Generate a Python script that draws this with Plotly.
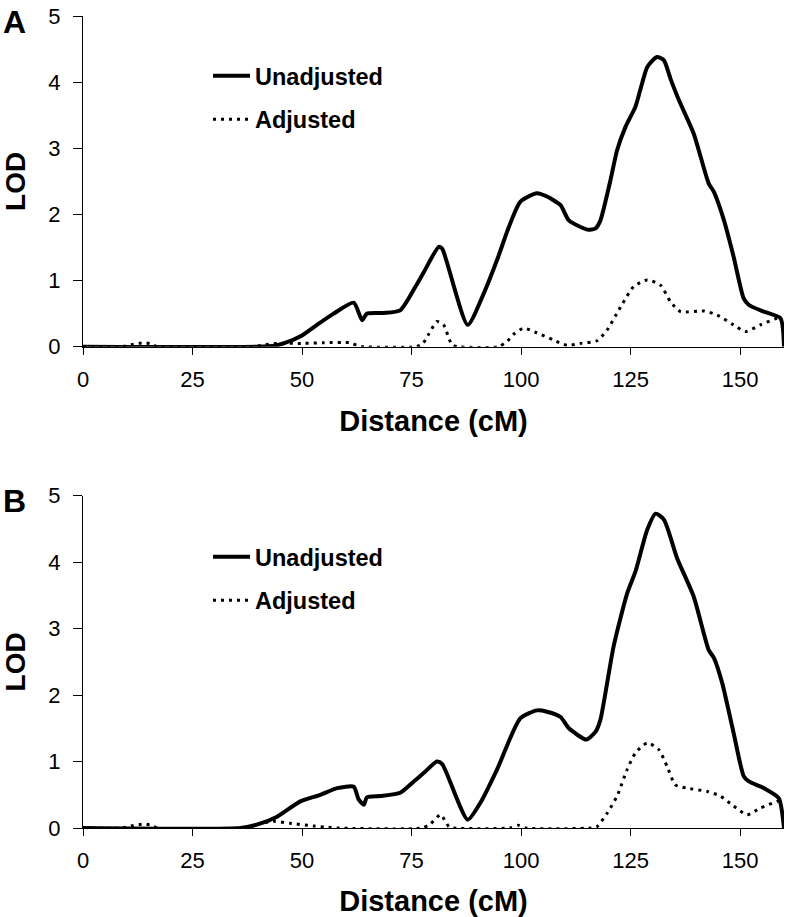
import plotly.graph_objects as go

# Panel A data
a_unadj_x = [0, 40, 44, 45.8, 50, 53.4, 57.2, 61.8, 63.7, 64.8, 68.6, 72.4, 75.9, 77.8, 81.2, 82.0, 87.8,
             91.5, 94.5, 97.2, 99.8, 103.6, 105.9, 109.0, 110.9, 115.1, 117.0, 118.1, 120.4, 121.9, 123.8,
             126.1, 127.6, 128.8, 131.0, 132.6, 134.1, 136.0, 139.4, 142.8, 144.0, 146.3, 148.5, 150.8,
             152.0, 155.4, 159.2, 160]
a_unadj_y = [0, 0, 0.02, 0.05, 0.17, 0.33, 0.50, 0.665, 0.40, 0.50, 0.51, 0.55, 0.91, 1.13, 1.51, 1.48, 0.33,
             0.81, 1.31, 1.81, 2.19, 2.32, 2.27, 2.14, 1.91, 1.77, 1.79, 1.91, 2.52, 2.97, 3.32,
             3.63, 3.98, 4.23, 4.38, 4.33, 4.05, 3.73, 3.22, 2.47, 2.34, 1.91, 1.36, 0.73,
             0.63, 0.53, 0.43, 0]
a_adj_x = [0, 9, 11, 14, 16, 17, 38, 40.5, 44.3, 50, 55, 61, 62.5, 64, 76, 77.5, 79, 80.8, 82.3, 84.2, 85.5,
           94.8, 96.8, 98.5, 100.6, 103.6, 107.4, 110.5, 113.5, 117.3, 119.6, 122.7, 125.7, 128.8, 131.8,
           134.1, 136.4, 141.7, 144.7, 148.5, 151.2, 154.6, 158.4, 159.5]
a_adj_y = [0, 0, 0.03, 0.06, 0.03, 0, 0, 0.02, 0.05, 0.05, 0.06, 0.06, 0.02, 0, 0, 0.04, 0.2, 0.38, 0.33, 0.03, 0,
           0, 0.08, 0.2, 0.28, 0.21, 0.10, 0.02, 0.05, 0.09, 0.25, 0.60, 0.91, 1.01, 0.93,
           0.68, 0.53, 0.54, 0.48, 0.33, 0.23, 0.33, 0.43, 0.44]

# Panel B data
b_unadj_x = [0, 36, 39.7, 44.3, 49.6, 54.2, 58.0, 61.8, 62.9, 64.1, 64.8, 67.9, 72.4, 75.5, 77.8, 80.8, 82.0,
             87.8, 90.7, 94.5, 99.8, 103.6, 105.9, 109.0, 110.9, 114.9, 117.0, 118.1, 121.1, 124.2, 126.1,
             128.8, 130.7, 132.6, 135.6, 139.4, 142.8, 144.0, 145.9, 148.5, 150.8, 152.0, 155.4, 158.8, 160]
b_unadj_y = [0, 0, 0.05, 0.17, 0.40, 0.50, 0.60, 0.62, 0.43, 0.35, 0.46, 0.48, 0.53, 0.70, 0.83, 1.00, 0.96,
             0.125, 0.38, 0.88, 1.65, 1.77, 1.75, 1.67, 1.50, 1.33, 1.45, 1.63, 2.73, 3.53, 3.86,
             4.49, 4.73, 4.64, 4.06, 3.48, 2.68, 2.56, 2.18, 1.43, 0.78, 0.70, 0.60, 0.45, 0]
b_adj_x = [0, 9, 11, 14, 16, 17, 37, 40.5, 43.5, 47.3, 52.7, 56, 58, 77.4, 79.3, 81.6, 83.5, 84.5, 97.5, 99.4,
           101, 116, 117.3, 119.6, 121.9, 124.2, 126.1, 128.8, 131.4, 133.3, 135.2, 137.9, 142.5, 145.5,
           148.5, 151.6, 154.6, 158.4, 159.5]
b_adj_y = [0, 0, 0.03, 0.06, 0.03, 0, 0, 0.07, 0.10, 0.07, 0.03, 0.01, 0, 0, 0.06, 0.20, 0.02, 0, 0, 0.04,
           0, 0, 0.02, 0.22, 0.48, 0.88, 1.13, 1.28, 1.18, 0.93, 0.65, 0.60, 0.55, 0.48,
           0.33, 0.20, 0.30, 0.40, 0.42]

x_ticks = [0, 25, 50, 75, 100, 125, 150]
y_ticks = [0, 1, 2, 3, 4, 5]
panel_labels = ["A", "B"]

FONT = "Liberation Sans, Arial, Helvetica, sans-serif"
W, H = 789, 917
ML, MR, MT, MB = 83, 5, 16, 89

fig = go.Figure()

solid = dict(color="black", width=4, shape="spline", smoothing=0.6)
dotted = dict(color="black", width=3, dash="3px,5px", shape="spline", smoothing=0.6)

fig.add_trace(go.Scatter(x=a_unadj_x, y=a_unadj_y, mode="lines", line=solid, name="<b>Unadjusted</b>",
                         xaxis="x", yaxis="y", legend="legend", legendgroup="a1"))
fig.add_trace(go.Scatter(x=a_adj_x, y=a_adj_y, mode="lines", line=dotted, name="<b>Adjusted</b>",
                         xaxis="x", yaxis="y", legend="legend", legendgroup="a2"))
fig.add_trace(go.Scatter(x=b_unadj_x, y=b_unadj_y, mode="lines", line=solid, name="<b>Unadjusted</b>",
                         xaxis="x2", yaxis="y2", legend="legend2", legendgroup="b1"))
fig.add_trace(go.Scatter(x=b_adj_x, y=b_adj_y, mode="lines", line=dotted, name="<b>Adjusted</b>",
                         xaxis="x2", yaxis="y2", legend="legend2", legendgroup="b2"))

plot_h = H - MT - MB
plot_w = W - ML - MR
a_bottom = (H - MB - 346.7) / plot_h
b_top = (H - MB - 495.7) / plot_h

xcommon = dict(range=[0, 160], tickvals=x_ticks, ticks="outside", ticklen=7, tickwidth=1,
               tickcolor="black", showline=True, linecolor="black", linewidth=1, showgrid=False,
               zeroline=False, tickfont=dict(family=FONT, size=22, color="black"),
               title=dict(text="<b>Distance (cM)</b>", font=dict(family=FONT, size=29, color="black"),
                          standoff=19),
               ticklabelstandoff=6, automargin=False)
ycommon = dict(range=[0, 5], tickvals=y_ticks, ticks="outside", ticklen=9, tickwidth=1,
               tickcolor="black", showline=True, linecolor="black", linewidth=1, showgrid=False,
               zeroline=False, tickfont=dict(family=FONT, size=22, color="black"),
               title=dict(text="<b>LOD</b>", font=dict(family=FONT, size=28, color="black"), standoff=18),
               ticklabelstandoff=8, automargin=False)

leg_common = dict(font=dict(family=FONT, size=23.5, color="black"), bgcolor="rgba(0,0,0,0)",
                  xanchor="left", yanchor="top", tracegroupgap=10, itemwidth=37)

fig.update_layout(
    width=W, height=H,
    margin=dict(l=ML, r=MR, t=MT, b=MB, autoexpand=False),
    paper_bgcolor="white", plot_bgcolor="white",
    xaxis=dict(domain=[0, 1], anchor="y", **xcommon),
    yaxis=dict(domain=[a_bottom, 1], anchor="x", **ycommon),
    xaxis2=dict(domain=[0, 1], anchor="y2", **xcommon),
    yaxis2=dict(domain=[0, b_top], anchor="x2", **ycommon),
    legend=dict(x=(208 - ML) / plot_w, y=(H - MB - 54) / plot_h, **leg_common),
    legend2=dict(x=(208 - ML) / plot_w, y=(H - MB - 535) / plot_h, **leg_common),
    showlegend=True,
)

for label, ypx in zip(panel_labels, [22, 501]):
    fig.add_annotation(text=f"<b>{label}</b>", xref="paper", yref="paper",
                       x=(14 - ML) / plot_w, y=(H - MB - ypx) / plot_h,
                       xanchor="center", yanchor="middle", showarrow=False,
                       font=dict(family=FONT, size=32, color="black"))

fig.write_html("out.html", config={"displayModeBar": False},
               post_script="document.body.style.margin='0';")
